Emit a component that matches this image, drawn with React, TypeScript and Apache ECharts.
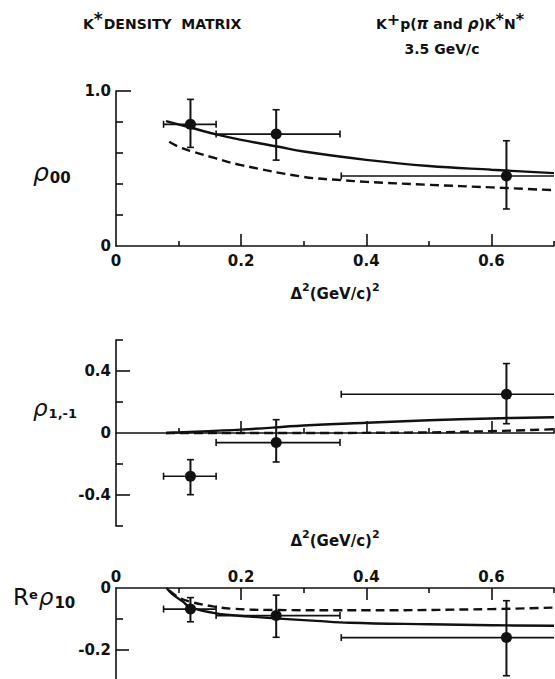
import React, { useEffect, useRef } from "react";
import * as echarts from "echarts";

// ---- data ----
const binCenters = [0.119, 0.256, 0.624];
const binLo = [0.076, 0.16, 0.36];
const binHi = [0.16, 0.358, 1.0];

const rho00 = [0.785, 0.722, 0.452];
const rho00Lo = [0.636, 0.554, 0.239];
const rho00Hi = [0.946, 0.879, 0.679];

const rho1m1 = [-0.279, -0.062, 0.25];
const rho1m1Lo = [-0.398, -0.187, 0.06];
const rho1m1Hi = [-0.172, 0.086, 0.448];

const reRho10 = [-0.068, -0.089, -0.16];
const reRho10Lo = [-0.109, -0.159, -0.283];
const reRho10Hi = [-0.031, -0.023, -0.041];

// theory curves [Δ², value]
const rho00Solid = [[0.08, 0.806], [0.12, 0.763], [0.16, 0.72], [0.2, 0.685], [0.26, 0.64], [0.3, 0.61], [0.4, 0.556], [0.5, 0.516], [0.6, 0.492], [0.7, 0.47]];
const rho00Dashed = [[0.085, 0.672], [0.1, 0.64], [0.12, 0.612], [0.16, 0.565], [0.2, 0.522], [0.3, 0.446], [0.36, 0.425], [0.4, 0.414], [0.5, 0.395], [0.6, 0.378], [0.7, 0.36]];
const rho1m1Solid = [[0.08, 0], [0.1, 0.004], [0.2, 0.022], [0.3, 0.048], [0.4, 0.066], [0.5, 0.082], [0.6, 0.094], [0.7, 0.102]];
const rho1m1Dashed = [[0.08, 0], [0.3, 0], [0.4, 0.001], [0.5, 0.004], [0.6, 0.012], [0.7, 0.024]];
const reRho10Solid = [[0.081, 0], [0.09, -0.02], [0.107, -0.044], [0.118, -0.062], [0.16, -0.082], [0.214, -0.092], [0.254, -0.098], [0.32, -0.106], [0.373, -0.112], [0.5, -0.117], [0.6, -0.12], [0.7, -0.122]];
const reRho10Dashed = [[0.085, -0.008], [0.1, -0.03], [0.118, -0.044], [0.157, -0.06], [0.187, -0.067], [0.25, -0.071], [0.4, -0.072], [0.6, -0.068], [0.7, -0.063]];

// ticks and tick labels
const xTickLabels = [0, 0.2, 0.4, 0.6];
const xMajorTicks = [0.2, 0.4, 0.6];
const xMinorTicks = [0.1, 0.3, 0.5, 0.7];
const y1Labels = [0, 1];
const y1Major = [1];
const y1Minor = [0.2, 0.4, 0.6, 0.8];
const y2Labels = [-0.4, 0, 0.4];
const y2Major = [-0.4, 0.4];
const y2Minor = [-0.6, -0.2, 0.2, 0.6];
const y3Labels = [-0.2, 0];
const y3Major = [-0.2];
const y3Minor = [-0.1];

const FONT = "DejaVu Sans";
const INK = "#111";

function bars(vals: number[], lo: number[], hi: number[]) {
  return binCenters.map((x, i) => [x, vals[i], binLo[i], binHi[i], lo[i], hi[i]]);
}
function points(vals: number[]) {
  return binCenters.map((x, i) => [x, vals[i]]);
}

const fmtX = (v: number) => (v === 0 ? "0" : v.toFixed(1));
const fmtY = (v: number) => (v === 0 ? "0" : v === 1 ? "1.0" : v.toFixed(1));

const labelStyle = { color: INK, fontFamily: FONT, fontSize: 15, fontWeight: "bold" as const };
const nameRich = {
  t: { fontFamily: FONT, fontSize: 15, fontWeight: "bold", color: INK },
  s: { fontFamily: FONT, fontSize: 11, fontWeight: "bold", color: INK, padding: [0, 0, 12, 0] },
};

function xAxisPair(gridIndex: number, position: "top" | "bottom", showLabels: boolean, onZero: boolean, name: string, nameGap: number) {
  const line = { color: INK, width: 1.6 };
  return [
    {
      type: "value", gridIndex, position, min: 0, max: 0.7,
      axisLine: { show: true, onZero, lineStyle: line },
      axisTick: { show: true, inside: true, length: 12, customValues: xMajorTicks, lineStyle: line },
      axisLabel: { show: showLabels, customValues: xTickLabels, margin: position === "top" ? 4 : 7, formatter: fmtX, ...labelStyle },
      splitLine: { show: false },
      name, nameLocation: "middle", nameGap, nameMoveOverlap: false,
      nameTextStyle: { rich: nameRich },
    },
    {
      type: "value", gridIndex, position, min: 0, max: 0.7,
      axisLine: { show: false, onZero, lineStyle: line },
      axisTick: { show: true, inside: true, length: 5, customValues: xMinorTicks, lineStyle: line },
      axisLabel: { show: false },
      splitLine: { show: false },
    },
  ];
}

function yAxisPair(gridIndex: number, min: number, max: number, labels: number[], major: number[], minor: number[], majorLen: number) {
  const line = { color: INK, width: 1.6 };
  return [
    {
      type: "value", gridIndex, position: "left", min, max,
      axisLine: { show: true, onZero: false, lineStyle: line },
      axisTick: { show: true, inside: true, length: majorLen, customValues: major, lineStyle: line },
      axisLabel: { show: true, customValues: labels, margin: 5, formatter: fmtY, ...labelStyle },
      splitLine: { show: false },
    },
    {
      type: "value", gridIndex, position: "left", min, max,
      axisLine: { show: false, onZero: false },
      axisTick: { show: true, inside: true, length: 7, customValues: minor, lineStyle: line },
      axisLabel: { show: false },
      splitLine: { show: false },
    },
  ];
}

function errorBarItem(params: any, api: any) {
  const x = api.value(0), y = api.value(1);
  const pL = api.coord([api.value(2), y]);
  const pR = api.coord([api.value(3), y]);
  const pB = api.coord([x, api.value(4)]);
  const pT = api.coord([x, api.value(5)]);
  const c = 3.5;
  const style = { stroke: INK, lineWidth: 1.6, fill: null };
  const vstyle = { stroke: INK, lineWidth: 2, fill: null };
  const ln = (x1: number, y1: number, x2: number, y2: number, s: any) => ({ type: "line", shape: { x1, y1, x2, y2 }, style: s });
  return {
    type: "group",
    children: [
      ln(pL[0], pL[1], pR[0], pR[1], style),
      ln(pL[0], pL[1] - c, pL[0], pL[1] + c, style),
      ln(pR[0], pR[1] - c, pR[0], pR[1] + c, style),
      ln(pB[0], pB[1], pT[0], pT[1], vstyle),
      ln(pB[0] - c, pB[1], pB[0] + c, pB[1], style),
      ln(pT[0] - c, pT[1], pT[0] + c, pT[1], style),
    ],
  };
}

function panelSeries(idx: number, solid: number[][], dashed: number[][], vals: number[], lo: number[], hi: number[]) {
  const ax = { xAxisIndex: idx, yAxisIndex: idx };
  return [
    { type: "line", ...ax, data: solid, smooth: 0.4, showSymbol: false, symbol: "none", clip: true, lineStyle: { color: INK, width: 2.4 }, z: 3 },
    { type: "line", ...ax, data: dashed, smooth: 0.4, showSymbol: false, symbol: "none", clip: true, lineStyle: { color: INK, width: 2.4, type: [9, 5] }, z: 3 },
    { type: "custom", ...ax, data: bars(vals, lo, hi), renderItem: errorBarItem, clip: true, encode: { x: 0, y: 1 }, z: 4 },
    { type: "scatter", ...ax, data: points(vals), symbol: "circle", symbolSize: 11, itemStyle: { color: INK, opacity: 1 }, z: 5 },
  ];
}

function txt(x: number, y: number, text: string, rich: any, align = "left") {
  return {
    type: "text", x, y, z: 10,
    style: { text, rich, fill: INK, align, textAlign: align, verticalAlign: "middle", textVerticalAlign: "middle", font: `bold 14px "${FONT}"` },
  };
}

export default function App() {
  const ref = useRef<HTMLDivElement>(null);
  useEffect(() => {
    document.body.style.margin = "0";
    const chart = echarts.init(ref.current!, undefined, { renderer: "svg" });
    const b = { fontFamily: FONT, fontWeight: "bold", color: INK };
    const option: any = {
      animation: false,
      backgroundColor: "#fff",
      grid: [
        { left: 116, top: 91, width: 438, height: 155, outerBoundsMode: "none" },
        { left: 116, top: 340, width: 438, height: 186, outerBoundsMode: "none" },
        { left: 116, top: 588, width: 438, height: 93, outerBoundsMode: "none" },
      ],
      xAxis: [
        ...xAxisPair(0, "bottom", true, false, "{t|Δ}{s|2}{t|(GeV/c)}{s|2}", 36),
        ...xAxisPair(1, "bottom", false, true, "", 0),
        ...xAxisPair(2, "top", true, false, "{t|Δ}{s|2}{t|(GeV/c)}{s|2}", 36),
      ],
      yAxis: [
        ...yAxisPair(0, 0, 1, y1Labels, y1Major, y1Minor, 15),
        ...yAxisPair(1, -0.6, 0.6, y2Labels, y2Major, y2Minor, 14),
        ...yAxisPair(2, -0.3, 0, y3Labels, y3Major, y3Minor, 13),
      ],
      series: [
        ...panelSeries(0, rho00Solid, rho00Dashed, rho00, rho00Lo, rho00Hi),
        ...panelSeries(2, rho1m1Solid, rho1m1Dashed, rho1m1, rho1m1Lo, rho1m1Hi),
        ...panelSeries(4, reRho10Solid, reRho10Dashed, reRho10, reRho10Lo, reRho10Hi),
      ],
      graphic: [
        txt(83, 24, "{a|K}{s|*}{a|DENSITY  MATRIX}", {
          a: { ...b, fontSize: 14 }, s: { ...b, fontSize: 17, padding: [0, 1, 10, 0] },
        }),
        txt(450, 24, "{a|K}{s|+}{a|p(}{i|π}{a| and }{i|ρ}{a|)K}{s|*}{a|N}{s|*}", {
          a: { ...b, fontSize: 14 }, i: { ...b, fontSize: 15, fontStyle: "italic" }, s: { ...b, fontSize: 16, padding: [0, 0, 10, 0] },
        }, "center"),
        txt(442, 49, "{a|3.5 GeV/c}", { a: { ...b, fontSize: 14 } }, "center"),
        txt(33, 172, "{r|ρ}{n|00}", {
          r: { ...b, fontSize: 25, fontStyle: "italic", fontWeight: "normal" }, n: { ...b, fontSize: 15, padding: [12, 0, 0, 1] },
        }),
        txt(33, 408, "{r|ρ}{n|1,-1}", {
          r: { ...b, fontSize: 23, fontStyle: "italic", fontWeight: "normal" }, n: { ...b, fontSize: 13, padding: [10, 0, 0, 1] },
        }),
        txt(13, 597, "{R|R}{e|e}{r|ρ}{n|10}", {
          R: { ...b, fontSize: 23, fontWeight: "normal" }, e: { ...b, fontSize: 13, padding: [0, 1, 6, 0] },
          r: { ...b, fontSize: 23, fontStyle: "italic", fontWeight: "normal" }, n: { ...b, fontSize: 15, padding: [12, 0, 0, 1] },
        }),
      ],
    };
    chart.setOption(option);
    return () => chart.dispose();
  }, []);
  return <div ref={ref} style={{ width: 555, height: 679 }} />;
}
